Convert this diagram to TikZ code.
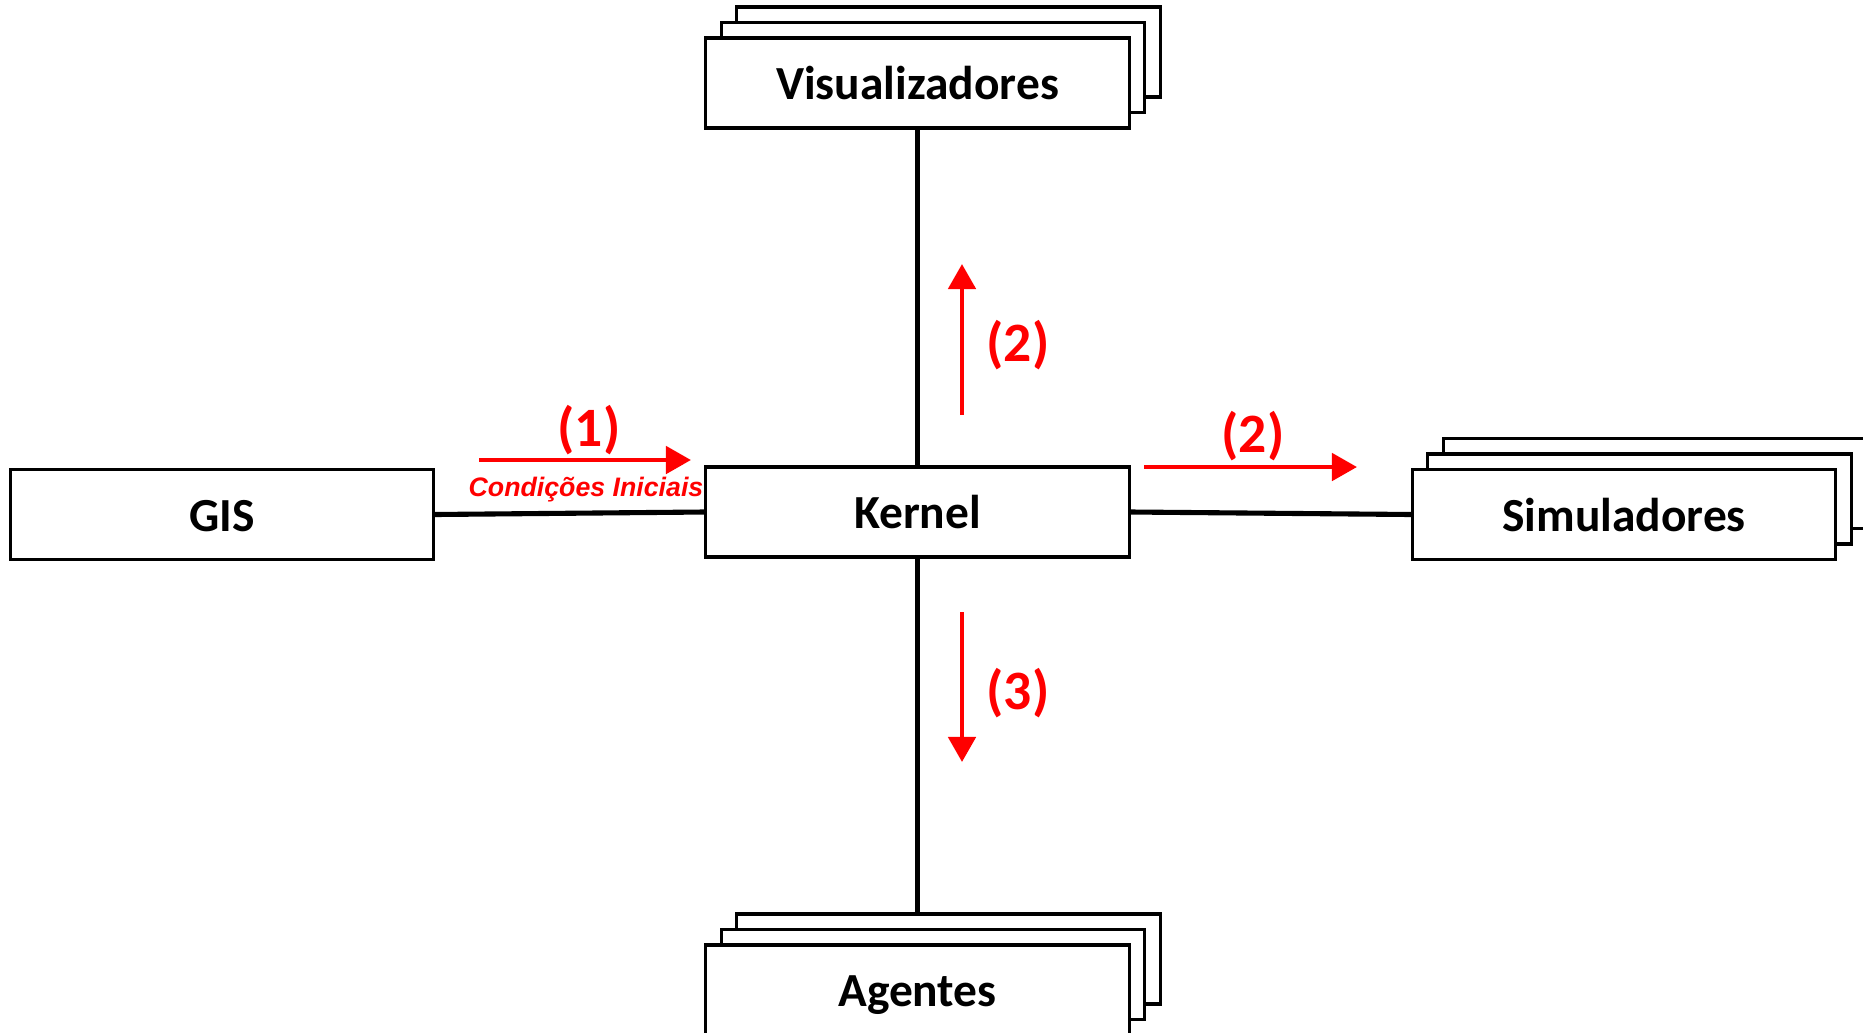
\documentclass[tikz,border=0pt]{standalone}
\usepackage{fontspec}
\setmainfont{Carlito}
\newfontfamily\arialfont{Liberation Sans}
\usetikzlibrary{arrows.meta}
\definecolor{flowred}{RGB}{255,0,0}
\tikzset{
  box/.style={draw=black, line width=0.9pt, fill=white, inner sep=0pt,
    minimum width=4.23cm, minimum height=0.9cm,
    text height=9.4pt, text depth=0pt,
    font=\fontsize{13.5pt}{16pt}\selectfont\bfseries},
  link/.style={draw=black, line width=1.45pt},
  flow/.style={draw=flowred, line width=1.35pt,
    -{Triangle[length=0.25cm, width=0.27cm]}},
  flowlabel/.style={text=flowred, inner sep=0pt,
    font=\fontsize{15.8pt}{18pt}\selectfont\bfseries},
  notelabel/.style={text=flowred, inner sep=0pt,
    font=\arialfont\fontsize{7.6pt}{9pt}\selectfont\bfseries\itshape}
}
\begin{document}
\begin{tikzpicture}[x=0.01cm, y=-0.01cm]
\useasboundingbox (0,0) rectangle (1863,1033);
\clip (0,0) rectangle (1863,1033);
\fill[white] (0,0) rectangle (1863,1033);

% stacked copies behind the multi-instance components
\node[box] (vis3) at (948.5,52) {};
\node[box] (vis2) at (933,67.5) {};
\node[box] (vis) at (917.5,83) {Visualizadores};

\node[box] (sim3) at (1655,483.5) {};
\node[box] (sim2) at (1639.5,499) {};
\node[box] (sim) at (1624,514.5) {Simuladores};

\node[box] (ag3) at (948.5,959) {};
\node[box] (ag2) at (933,974.5) {};
\node[box] (ag) at (917.5,990) {Agentes};

\node[box] (kernel) at (917.5,512) {Kernel};
\node[box] (gis) at (222,514.5) {GIS};

% connections to the kernel
\draw[link] (kernel.north) -- (vis.south);
\draw[link] (kernel.south) -- (kernel.south |- ag3.north);
\draw[link] (gis.east) -- (kernel.west);
\draw[link] (kernel.east) -- (sim.west);

% data flow annotations
\coordinate (f1a) at (479,460);
\coordinate (f1b) at (691,460);
\coordinate (f2a) at (962,415);
\coordinate (f2b) at (962,264);
\coordinate (f3a) at (1144,467);
\coordinate (f3b) at (1357,467);
\coordinate (f4a) at (962,612);
\coordinate (f4b) at (962,762);
\draw[flow] (f1a) -- (f1b);
\draw[flow] (f2a) -- (f2b);
\draw[flow] (f3a) -- (f3b);
\draw[flow] (f4a) -- (f4b);

\node[flowlabel] (l1) at (589,430) {(1)};
\node[notelabel] (l1note) at (586,490) {Condições Iniciais};
\node[flowlabel] (l2v) at (1018,345) {(2)};
\node[flowlabel] (l2h) at (1253,436) {(2)};
\node[flowlabel] (l3) at (1018,693) {(3)};
\end{tikzpicture}
\end{document}
